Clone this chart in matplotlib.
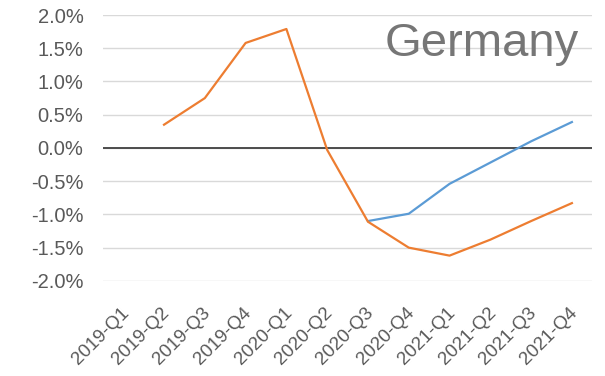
import numpy as np
import matplotlib
matplotlib.use('Agg')
import matplotlib.pyplot as plt
import matplotlib.transforms as mtransforms
from matplotlib.ticker import PercentFormatter

quarters = ['2019-Q1', '2019-Q2', '2019-Q3', '2019-Q4', '2020-Q1', '2020-Q2',
            '2020-Q3', '2020-Q4', '2021-Q1', '2021-Q2', '2021-Q3', '2021-Q4']
# values in percent; None where the series has no value
orange_vals = [None, 0.35, 0.75, 1.58, 1.79, -0.03, -1.11, -1.50, -1.62, -1.38, -1.10, -0.83]
blue_vals = [None, None, None, None, None, None, -1.10, -0.99, -0.54, -0.22, 0.10, 0.39]
title = 'Germany'

ORANGE = '#ED7D31'
BLUE = '#5B9BD5'
GREY = '#595959'

plt.rcParams['font.family'] = ['Liberation Sans', 'DejaVu Sans']
plt.rcParams['axes.unicode_minus'] = False

fig = plt.figure(figsize=(6.05, 3.76), dpi=100)
ax = fig.add_axes([0.170, 0.253, 0.809, 0.707])

x = np.arange(len(quarters))
ys_o = np.array([np.nan if v is None else v for v in orange_vals])
ys_b = np.array([np.nan if v is None else v for v in blue_vals])
ax.plot(x, ys_b, color=BLUE, lw=1.6, zorder=3)
ax.plot(x, ys_o, color=ORANGE, lw=1.6, zorder=4)

ax.set_xlim(-0.5, len(quarters) - 0.5)
ax.set_ylim(-2.0, 2.0)
ax.set_yticks(np.arange(-2.0, 2.01, 0.5))
ax.yaxis.set_major_formatter(PercentFormatter(decimals=1))
ax.grid(axis='y', color='#D9D9D9', lw=1.0, zorder=0)
ax.axhline(0, color='#404040', lw=1.3, zorder=2)
for s in ax.spines.values():
    s.set_visible(False)

ax.set_xticks(x)
ax.set_xticklabels(quarters, rotation=45, ha='right', rotation_mode='anchor')
ax.tick_params(axis='both', length=0, labelcolor=GREY)
ax.tick_params(axis='y', pad=14, labelsize=14.5)
ax.tick_params(axis='x', pad=17, labelsize=13.5)
# nudge the slanted quarter labels a little to the left
shift = mtransforms.ScaledTranslation(-3 / 100, 0, fig.dpi_scale_trans)
for lbl in ax.get_xticklabels():
    lbl.set_transform(lbl.get_transform() + shift)

ax.text(0.972, 0.975, title, transform=ax.transAxes, ha='right', va='top',
        fontsize=34, color='#767676', zorder=5)

fig.savefig('out.png', dpi=100)
